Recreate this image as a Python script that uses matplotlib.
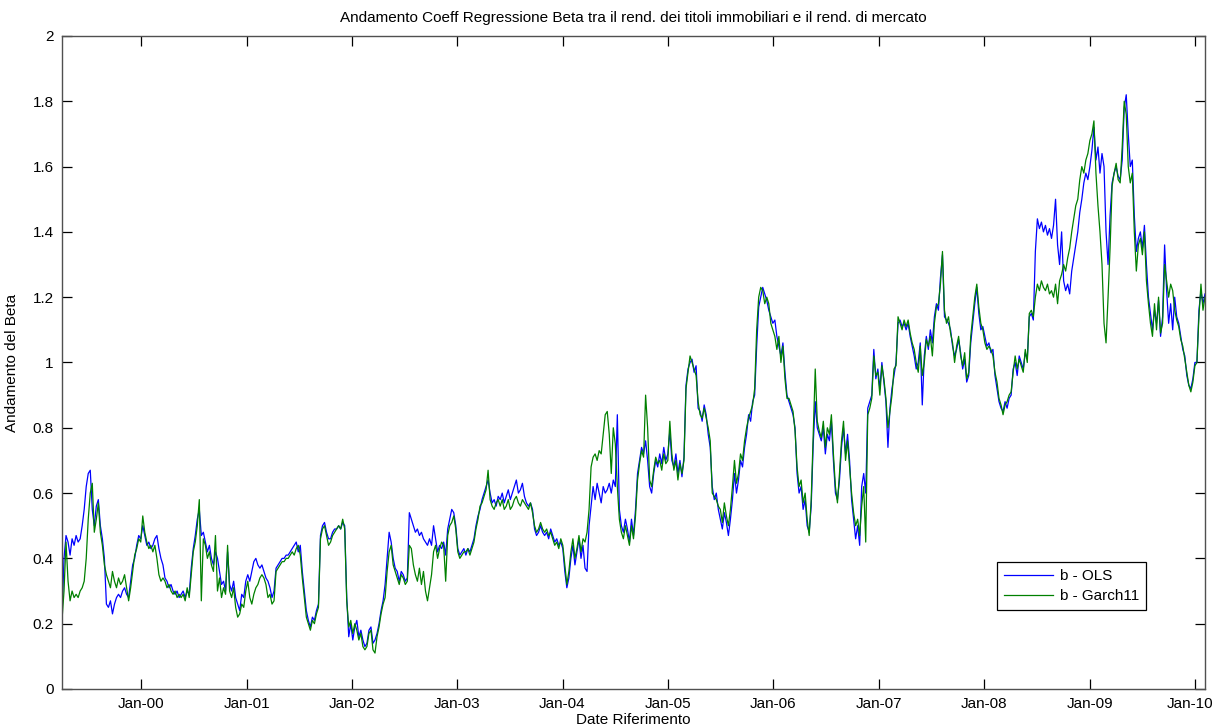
import matplotlib
matplotlib.use("Agg")
import matplotlib.pyplot as plt
import matplotlib.dates as mdates
import matplotlib.transforms as mtransforms
import numpy as np
import pandas as pd

plt.rcParams['font.family'] = ['Liberation Sans', 'DejaVu Sans']

# Settimane di riferimento (dati settimanali, apr-1999 .. feb-2010)
START_DATE = '1999-04-02'
N_WEEKS = 567

# Coefficiente beta stimato con OLS (rolling)
beta_ols = [
    0.22, 0.40, 0.47, 0.45, 0.41, 0.46, 0.44, 0.47, 0.45, 0.46,
    0.50, 0.55, 0.62, 0.66, 0.67, 0.55, 0.50, 0.56, 0.58, 0.50,
    0.46, 0.40, 0.26, 0.25, 0.27, 0.23, 0.26, 0.28, 0.29, 0.28,
    0.30, 0.31, 0.29, 0.28, 0.33, 0.38, 0.40, 0.44, 0.47, 0.46,
    0.50, 0.47, 0.44, 0.45, 0.43, 0.44, 0.46, 0.47, 0.43, 0.40,
    0.38, 0.34, 0.33, 0.31, 0.32, 0.30, 0.29, 0.30, 0.28, 0.29,
    0.30, 0.28, 0.30, 0.29, 0.37, 0.43, 0.47, 0.52, 0.55, 0.47,
    0.48, 0.45, 0.42, 0.44, 0.40, 0.38, 0.42, 0.40, 0.36, 0.32,
    0.33, 0.30, 0.42, 0.32, 0.30, 0.33, 0.28, 0.26, 0.24, 0.29,
    0.28, 0.33, 0.35, 0.33, 0.36, 0.39, 0.40, 0.38, 0.37, 0.38,
    0.36, 0.34, 0.33, 0.31, 0.28, 0.30, 0.37, 0.38, 0.39, 0.40,
    0.40, 0.41, 0.41, 0.42, 0.43, 0.44, 0.45, 0.42, 0.44, 0.36,
    0.30, 0.24, 0.21, 0.19, 0.22, 0.21, 0.24, 0.26, 0.47, 0.50,
    0.51, 0.48, 0.46, 0.46, 0.48, 0.49, 0.49, 0.50, 0.49, 0.51,
    0.50, 0.28, 0.16, 0.20, 0.15, 0.19, 0.21, 0.16, 0.18, 0.15,
    0.13, 0.14, 0.18, 0.19, 0.14, 0.15, 0.17, 0.20, 0.24, 0.27,
    0.32, 0.40, 0.48, 0.45, 0.40, 0.37, 0.36, 0.33, 0.36, 0.35,
    0.33, 0.34, 0.54, 0.52, 0.50, 0.48, 0.49, 0.47, 0.48, 0.46,
    0.45, 0.44, 0.46, 0.44, 0.50, 0.46, 0.42, 0.44, 0.43, 0.45,
    0.41, 0.49, 0.52, 0.55, 0.54, 0.50, 0.43, 0.41, 0.42, 0.43,
    0.41, 0.43, 0.42, 0.44, 0.46, 0.50, 0.53, 0.55, 0.58, 0.60,
    0.62, 0.64, 0.60, 0.57, 0.58, 0.56, 0.59, 0.58, 0.60, 0.57,
    0.59, 0.61, 0.58, 0.60, 0.62, 0.64, 0.60, 0.61, 0.63, 0.59,
    0.57, 0.56, 0.57, 0.55, 0.49, 0.47, 0.48, 0.50, 0.48, 0.47,
    0.48, 0.46, 0.49, 0.47, 0.45, 0.46, 0.44, 0.45, 0.43, 0.36,
    0.31, 0.34, 0.40, 0.44, 0.38, 0.42, 0.46, 0.40, 0.44, 0.37,
    0.36, 0.50, 0.56, 0.62, 0.58, 0.63, 0.60, 0.57, 0.62, 0.60,
    0.61, 0.63, 0.60, 0.64, 0.62, 0.84, 0.55, 0.50, 0.48, 0.52,
    0.49, 0.45, 0.52, 0.47, 0.55, 0.66, 0.70, 0.74, 0.72, 0.76,
    0.70, 0.62, 0.60, 0.66, 0.70, 0.68, 0.72, 0.69, 0.74, 0.70,
    0.72, 0.79, 0.70, 0.68, 0.72, 0.66, 0.70, 0.65, 0.71, 0.93,
    0.98, 1.00, 1.01, 0.97, 0.99, 0.86, 0.85, 0.82, 0.87, 0.84,
    0.78, 0.74, 0.62, 0.58, 0.60, 0.55, 0.52, 0.49, 0.54, 0.51,
    0.47, 0.52, 0.58, 0.66, 0.60, 0.64, 0.70, 0.68, 0.74, 0.78,
    0.84, 0.82, 0.88, 0.90, 1.05, 1.17, 1.20, 1.23, 1.21, 1.19,
    1.16, 1.14, 1.12, 1.13, 1.08, 1.05, 1.02, 1.06, 0.97, 0.90,
    0.88, 0.86, 0.84, 0.80, 0.66, 0.60, 0.62, 0.55, 0.58, 0.50,
    0.48, 0.56, 0.75, 0.88, 0.80, 0.78, 0.76, 0.80, 0.72, 0.78,
    0.76, 0.82, 0.70, 0.60, 0.58, 0.64, 0.74, 0.80, 0.72, 0.78,
    0.70, 0.58, 0.52, 0.46, 0.50, 0.44, 0.62, 0.66, 0.60, 0.86,
    0.88, 0.90, 1.04, 0.95, 0.98, 0.92, 1.00, 0.94, 0.88, 0.74,
    0.86, 0.92, 0.96, 1.00, 1.12, 1.13, 1.11, 1.12, 1.10, 1.12,
    1.08, 1.05, 1.02, 0.98, 1.00, 1.06, 0.87, 1.02, 1.08, 1.04,
    1.10, 1.06, 1.14, 1.18, 1.16, 1.26, 1.33, 1.14, 1.13, 1.12,
    1.10, 1.05, 1.02, 1.04, 1.07, 1.03, 0.98, 1.01, 0.94, 0.96,
    1.06, 1.12, 1.18, 1.23, 1.15, 1.10, 1.11, 1.08, 1.05, 1.06,
    1.03, 1.04, 0.96, 0.92, 0.88, 0.86, 0.85, 0.88, 0.86, 0.89,
    0.90, 0.98, 1.00, 0.96, 1.02, 1.00, 0.98, 1.03, 1.01, 1.14,
    1.15, 1.13, 1.34, 1.44, 1.41, 1.43, 1.40, 1.42, 1.39, 1.41,
    1.38, 1.42, 1.50, 1.36, 1.30, 1.40, 1.25, 1.22, 1.24, 1.21,
    1.28, 1.32, 1.36, 1.40, 1.46, 1.50, 1.55, 1.58, 1.56, 1.60,
    1.65, 1.72, 1.62, 1.66, 1.58, 1.64, 1.60, 1.40, 1.30, 1.45,
    1.55, 1.58, 1.60, 1.57, 1.56, 1.62, 1.78, 1.82, 1.70, 1.60,
    1.62, 1.45, 1.34, 1.38, 1.40, 1.35, 1.42, 1.30, 1.20, 1.15,
    1.10, 1.16, 1.12, 1.19, 1.08, 1.14, 1.36, 1.22, 1.12, 1.18,
    1.10, 1.20, 1.14, 1.12, 1.08, 1.04, 1.02, 0.96, 0.93, 0.92,
    0.95, 1.00, 1.00, 1.16, 1.22, 1.18, 1.21,
]

# Coefficiente beta stimato con GARCH(1,1)
beta_garch = [
    0.21, 0.30, 0.45, 0.33, 0.27, 0.30, 0.28, 0.29, 0.28, 0.30,
    0.31, 0.33, 0.40, 0.52, 0.60, 0.63, 0.48, 0.52, 0.57, 0.48,
    0.44, 0.38, 0.35, 0.33, 0.31, 0.36, 0.33, 0.31, 0.34, 0.32,
    0.33, 0.35, 0.31, 0.27, 0.31, 0.36, 0.41, 0.43, 0.46, 0.45,
    0.53, 0.48, 0.45, 0.43, 0.44, 0.42, 0.44, 0.40, 0.35, 0.33,
    0.34, 0.33, 0.31, 0.32, 0.30, 0.29, 0.30, 0.28, 0.29, 0.28,
    0.29, 0.27, 0.31, 0.28, 0.35, 0.42, 0.45, 0.50, 0.58, 0.27,
    0.46, 0.44, 0.40, 0.42, 0.38, 0.36, 0.47, 0.30, 0.34, 0.28,
    0.31, 0.29, 0.44, 0.30, 0.28, 0.31, 0.25, 0.22, 0.23, 0.26,
    0.25, 0.30, 0.33, 0.28, 0.26, 0.29, 0.31, 0.32, 0.34, 0.35,
    0.34, 0.32, 0.28, 0.29, 0.26, 0.27, 0.36, 0.37, 0.38, 0.39,
    0.39, 0.40, 0.40, 0.41, 0.42, 0.41, 0.43, 0.44, 0.41, 0.34,
    0.28, 0.22, 0.20, 0.18, 0.21, 0.20, 0.23, 0.25, 0.46, 0.49,
    0.50, 0.47, 0.44, 0.45, 0.47, 0.48, 0.49, 0.50, 0.49, 0.52,
    0.49, 0.27, 0.19, 0.21, 0.17, 0.20, 0.18, 0.15, 0.17, 0.13,
    0.12, 0.13, 0.17, 0.18, 0.12, 0.11, 0.16, 0.19, 0.23, 0.26,
    0.28, 0.36, 0.42, 0.44, 0.38, 0.36, 0.34, 0.32, 0.35, 0.34,
    0.32, 0.33, 0.44, 0.43, 0.38, 0.35, 0.33, 0.37, 0.32, 0.36,
    0.30, 0.27, 0.31, 0.35, 0.42, 0.44, 0.40, 0.43, 0.45, 0.44,
    0.33, 0.47, 0.50, 0.51, 0.53, 0.49, 0.42, 0.40, 0.41, 0.42,
    0.42, 0.43, 0.41, 0.43, 0.45, 0.49, 0.52, 0.56, 0.57, 0.59,
    0.61, 0.67, 0.58, 0.56, 0.55, 0.57, 0.58, 0.56, 0.58, 0.55,
    0.56, 0.58, 0.55, 0.56, 0.58, 0.59, 0.57, 0.56, 0.58, 0.57,
    0.56, 0.55, 0.57, 0.54, 0.50, 0.48, 0.49, 0.51, 0.49, 0.48,
    0.49, 0.47, 0.48, 0.46, 0.44, 0.45, 0.43, 0.46, 0.44, 0.38,
    0.32, 0.36, 0.42, 0.46, 0.40, 0.43, 0.47, 0.42, 0.46, 0.45,
    0.48, 0.55, 0.68, 0.71, 0.72, 0.70, 0.73, 0.72, 0.78, 0.84,
    0.85, 0.78, 0.66, 0.80, 0.75, 0.62, 0.52, 0.48, 0.46, 0.50,
    0.47, 0.44, 0.50, 0.46, 0.53, 0.64, 0.69, 0.73, 0.71, 0.90,
    0.80, 0.64, 0.62, 0.67, 0.71, 0.69, 0.70, 0.67, 0.72, 0.69,
    0.70, 0.82, 0.72, 0.67, 0.70, 0.64, 0.69, 0.66, 0.70, 0.92,
    0.97, 1.02, 1.00, 0.98, 0.96, 0.88, 0.84, 0.83, 0.86, 0.83,
    0.80, 0.76, 0.60, 0.59, 0.58, 0.56, 0.55, 0.51, 0.57, 0.53,
    0.50, 0.55, 0.62, 0.70, 0.63, 0.66, 0.72, 0.70, 0.76, 0.80,
    0.83, 0.85, 0.87, 0.92, 1.10, 1.20, 1.23, 1.22, 1.18, 1.20,
    1.18, 1.12, 1.10, 1.08, 1.04, 1.08, 1.00, 1.05, 0.95, 0.89,
    0.89, 0.87, 0.85, 0.79, 0.68, 0.62, 0.64, 0.57, 0.60, 0.52,
    0.47, 0.58, 0.78, 0.98, 0.82, 0.79, 0.77, 0.82, 0.74, 0.80,
    0.78, 0.84, 0.72, 0.62, 0.57, 0.66, 0.76, 0.82, 0.70, 0.76,
    0.68, 0.60, 0.54, 0.50, 0.52, 0.47, 0.56, 0.62, 0.45, 0.84,
    0.86, 0.89, 1.02, 0.96, 0.97, 0.90, 0.99, 0.95, 0.89, 0.80,
    0.85, 0.90, 0.98, 0.99, 1.14, 1.12, 1.10, 1.13, 1.11, 1.13,
    1.09, 1.06, 1.04, 1.00, 0.97, 1.05, 0.96, 1.00, 1.07, 1.05,
    1.08, 1.02, 1.12, 1.17, 1.18, 1.24, 1.34, 1.16, 1.12, 1.14,
    1.09, 1.06, 1.00, 1.05, 1.08, 1.02, 0.99, 1.03, 0.95, 0.97,
    1.08, 1.14, 1.20, 1.24, 1.17, 1.12, 1.10, 1.06, 1.04, 1.05,
    1.04, 1.02, 0.97, 0.94, 0.89, 0.87, 0.84, 0.87, 0.88, 0.90,
    0.91, 0.97, 1.02, 0.98, 1.01, 0.99, 0.97, 1.04, 1.00, 1.15,
    1.16, 1.14, 1.20, 1.24, 1.22, 1.25, 1.23, 1.22, 1.24, 1.21,
    1.22, 1.20, 1.24, 1.18, 1.25, 1.27, 1.30, 1.28, 1.32, 1.35,
    1.40, 1.44, 1.48, 1.50, 1.56, 1.60, 1.58, 1.62, 1.64, 1.68,
    1.70, 1.74, 1.58, 1.48, 1.40, 1.30, 1.12, 1.06, 1.20, 1.35,
    1.54, 1.58, 1.61, 1.56, 1.55, 1.66, 1.80, 1.76, 1.60, 1.55,
    1.58, 1.40, 1.28, 1.36, 1.38, 1.33, 1.40, 1.25, 1.18, 1.12,
    1.08, 1.18, 1.10, 1.20, 1.09, 1.12, 1.30, 1.25, 1.20, 1.24,
    1.22, 1.16, 1.13, 1.11, 1.07, 1.05, 1.01, 0.97, 0.93, 0.91,
    0.94, 0.99, 1.00, 1.14, 1.24, 1.16, 1.20,
]

Y_TICKS = [0, 0.2, 0.4, 0.6, 0.8, 1, 1.2, 1.4, 1.6, 1.8, 2]
TICK_YEARS = list(range(2000, 2011))
FONT_SIZE = 11


def plot_beta(dates, ols, garch):
    fig = plt.figure(figsize=(12.13, 7.27), dpi=100)
    ax = fig.add_axes([0.0511, 0.0523, 0.9423, 0.8982])

    ax.plot(dates, ols, color=(0, 0, 1), linewidth=0.9, label='b - OLS')
    ax.plot(dates, garch, color=(0, 0.5, 0), linewidth=0.9, label='b - Garch11')

    ax.set_xlim(dates[0], dates[-1])
    ax.set_ylim(0, 2)
    ax.set_yticks(Y_TICKS)
    ax.set_yticklabels(['%g' % v for v in Y_TICKS])
    ax.set_xticks([pd.Timestamp('%d-01-01' % y) for y in TICK_YEARS])
    ax.xaxis.set_major_formatter(mdates.DateFormatter('%b-%y'))

    # stile "box" con tacche verso l'interno su tutti i lati
    ax.tick_params(direction='in', length=7, width=0.9, top=True, right=True,
                   labelsize=FONT_SIZE, colors='black', pad=6)
    for sp in ax.spines.values():
        sp.set_color('#505050')
        sp.set_linewidth(1.0)

    # l'ultima etichetta (Jan-10) sta sul bordo: la sposto un po' a sinistra
    fig.canvas.draw()
    last = ax.get_xticklabels()[-1]
    last.set_transform(last.get_transform() +
                       mtransforms.ScaledTranslation(-5 / 100, 0, fig.dpi_scale_trans))

    ax.set_title('Andamento Coeff Regressione Beta tra il rend. dei titoli '
                 'immobiliari e il rend. di mercato', fontsize=FONT_SIZE, pad=10)
    ax.set_xlabel('Date Riferimento', fontsize=FONT_SIZE, labelpad=1)
    ax.set_ylabel('Andamento del Beta', fontsize=FONT_SIZE, labelpad=10)

    leg = ax.legend(loc='lower left', bbox_to_anchor=(0.818, 0.121),
                    fontsize=FONT_SIZE, fancybox=False, framealpha=1,
                    edgecolor='black', handlelength=3.2, borderpad=0.45,
                    labelspacing=0.4, handletextpad=0.5, borderaxespad=0)
    leg.get_frame().set_linewidth(0.9)

    fig.savefig('out.png', dpi=100)


def main():
    dates = pd.date_range(START_DATE, periods=N_WEEKS, freq='7D')
    plot_beta(dates, np.array(beta_ols), np.array(beta_garch))


if __name__ == "__main__":
    main()
